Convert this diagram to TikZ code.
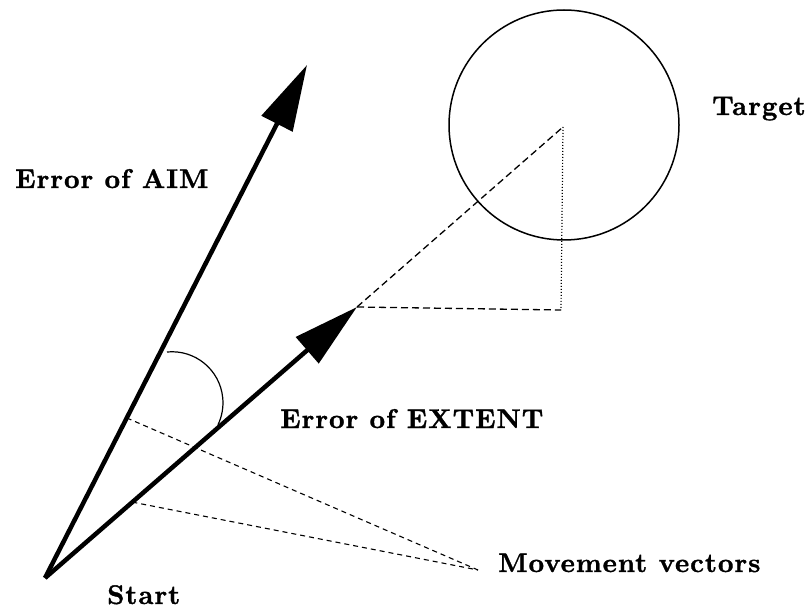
\documentclass[tikz,border=0pt]{standalone}
\usepackage{fontspec}
\newfontfamily\lblfam{lmroman10-bold.otf}[LetterSpace=3.5,FakeBold=1.2]
\usetikzlibrary{arrows.meta,calc}
\begin{document}
\begin{tikzpicture}[x=1pt,y=-1pt,
  vec/.style={line width=4.5pt, -{Triangle[length=66pt,width=34pt]}},
  dsh/.style={line width=1.3pt, dash pattern=on 7pt off 4pt},
  mdsh/.style={line width=1.1pt, dash pattern=on 5pt off 4pt},
  dtt/.style={line width=1.2pt, dash pattern=on 1pt off 2pt},
  lbl/.style={font=\lblfam\fontsize{27}{31}\selectfont, inner sep=0pt, anchor=base west}]
\useasboundingbox (0,0) rectangle (811,609);
\coordinate (S) at (45,578);
\coordinate (A) at (307,65);
\coordinate (E) at (357,307);
\coordinate (C) at (563,127);
\coordinate (F) at (561,310);
\coordinate (M) at (478,570);
\coordinate (P1) at (167,352);
\node[circle, draw, line width=1.5pt, minimum size=230pt, inner sep=0pt] (T) at (564,125) {};
\draw[vec] (S) -- (A);
\draw[vec] (S) -- (E);
\draw[dsh] (E) -- (C);
\draw[dtt] (C) -- (F);
\draw[dsh] (E) -- (F);
\draw[line width=1.2pt] (P1) arc[start angle=-95.6, end angle=25.6, radius=51];
\draw[mdsh] ($(S)!0.312!(A)$) -- (M);
\draw[mdsh] ($(S)!0.28!(E)$) -- (M);
\node[lbl] (aim) at (15,188) {Error of AIM};
\node[lbl] (tgt) at (712,115) {Target};
\node[lbl] (ext) at (280,428) {Error of EXTENT};
\node[lbl] (mov) at (498,572) {Movement vectors};
\node[lbl] (st) at (107,604) {Start};
\end{tikzpicture}
\end{document}
